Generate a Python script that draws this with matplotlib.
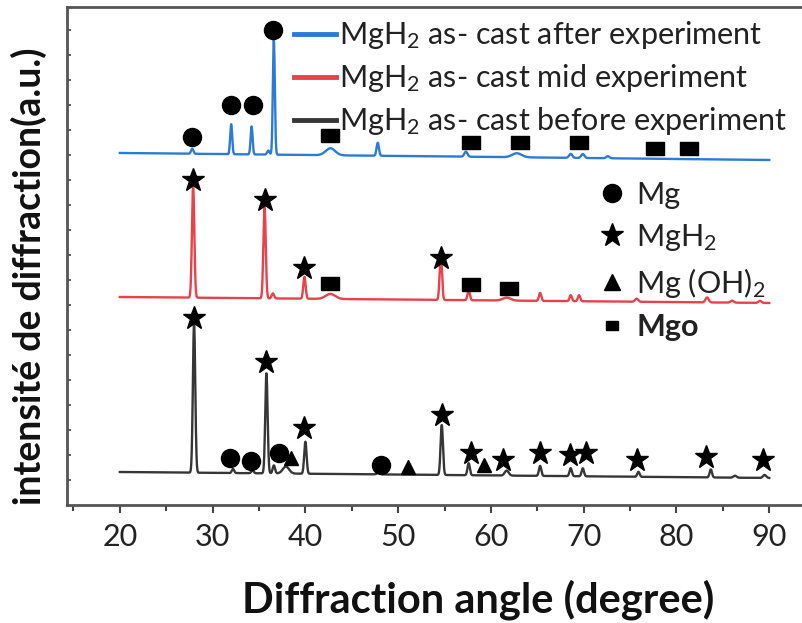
import numpy as np
import matplotlib.pyplot as plt
from matplotlib.lines import Line2D

plt.rcParams['font.family'] = ['Lato', 'DejaVu Sans']
plt.rcParams['mathtext.fontset'] = 'custom'
plt.rcParams['mathtext.rm'] = 'Lato'
plt.rcParams['mathtext.it'] = 'Lato:italic'
plt.rcParams['mathtext.bf'] = 'Lato:bold'

# peak lists: (2theta, height, fwhm), y in a.u.
before_peaks = [(28.0, 150, 0.3), (32.2, 4, 0.3), (34.3, 3, 0.3), (35.8, 100, 0.3),
                (36.6, 8, 0.3), (37.9, 7, 0.8), (40.0, 32, 0.3), (47.9, 2, 0.4),
                (54.7, 50, 0.3), (57.6, 12, 0.3), (61.7, 5, 0.5), (65.3, 10, 0.3),
                (68.6, 8, 0.3), (69.9, 8, 0.3), (75.9, 5, 0.3), (83.7, 8, 0.3),
                (86.3, 2, 0.4), (89.5, 3, 0.4)]
mid_peaks = [(27.9, 112, 0.3), (35.6, 92, 0.3), (36.5, 5, 0.3), (39.9, 22, 0.3),
             (42.7, 5, 1.2), (54.6, 45, 0.3), (57.6, 10, 0.3), (61.7, 3, 1.0),
             (65.3, 8, 0.3), (68.6, 6, 0.3), (69.5, 6, 0.3), (75.7, 3, 0.4),
             (83.3, 5, 0.4), (86.0, 2, 0.4), (89.0, 2, 0.4)]
after_peaks = [(27.8, 5, 0.3), (32.0, 30, 0.25), (34.2, 28, 0.25), (36.0, 4, 0.3),
               (36.6, 115, 0.25), (42.7, 7, 1.2), (47.8, 13, 0.3), (57.3, 5, 0.4),
               (62.8, 4, 1.2), (68.6, 4, 0.4), (69.9, 4, 0.4), (72.6, 2, 0.4)]

# baseline at 20 deg and at 90 deg
before_base = (33, 27)
mid_base = (208, 202)
after_base = (352, 345)

# phase markers (2theta, y)
mg_pts = [(27.8, 368), (32.0, 400), (34.4, 400), (36.5, 475),
          (31.9, 47), (34.1, 44), (37.2, 52), (48.1, 40)]
mgh2_pts = [(27.9, 325), (35.6, 305), (39.9, 237), (54.6, 247),
            (28.0, 187), (35.8, 143), (39.9, 77), (54.7, 90), (57.8, 52),
            (61.3, 45), (65.3, 52), (68.5, 50), (70.2, 52), (75.7, 45),
            (83.2, 48), (89.3, 45)]
mgoh2_pts = [(38.5, 47), (51.1, 38), (59.2, 40)]
mgo_pts = [(42.7, 370), (57.8, 363), (63.1, 363), (69.5, 363), (77.7, 357), (81.4, 357),
           (42.7, 222), (57.8, 221), (61.9, 217)]

labels = ['MgH$_2$ as- cast after experiment',
          'MgH$_2$ as- cast mid experiment',
          'MgH$_2$ as- cast before experiment']
colors = ['#2b7bd6', '#e8414a', '#363636']

two_theta = np.linspace(20, 90, 3500)


def pattern(peaks, base):
    y = base[0] + (base[1] - base[0]) * (two_theta - 20) / 70
    for pos, h, w in peaks:
        sig = w / 2.355
        y = y + h * np.exp(-0.5 * ((two_theta - pos) / sig) ** 2)
    return y


fig = plt.figure(figsize=(8.03, 6.23), dpi=100)
ax = fig.add_axes([0.0834, 0.1894, 0.93, 0.7994])

ax.plot(two_theta, pattern(after_peaks, after_base), color=colors[0], lw=1.7)
ax.plot(two_theta, pattern(mid_peaks, mid_base), color=colors[1], lw=1.7)
ax.plot(two_theta, pattern(before_peaks, before_base), color=colors[2], lw=1.7)

sq = [(-1, -0.72), (1, -0.72), (1, 0.72), (-1, 0.72), (-1, -0.72)]
ax.plot(*zip(*mg_pts), 'o', color='black', ms=13, ls='none')
ax.plot(*zip(*mgh2_pts), '*', color='black', ms=17, ls='none')
ax.plot(*zip(*mgoh2_pts), '^', color='black', ms=10, ls='none')
ax.plot(*zip(*mgo_pts), marker=sq, color='black', ms=13, ls='none')

handles = [Line2D([], [], color=c, lw=3.5) for c in colors]
leg1 = ax.legend(handles, labels, loc='upper left', bbox_to_anchor=(0.288, 1.0),
                 frameon=False, fontsize=22, handlelength=1.35, handletextpad=0.1,
                 labelspacing=0.36, borderaxespad=0)
for t in leg1.get_texts():
    t.set_color('#222222')
ax.add_artist(leg1)

phase_handles = [Line2D([], [], marker='o', color='black', ms=13, ls='none'),
                 Line2D([], [], marker='*', color='black', ms=17, ls='none'),
                 Line2D([], [], marker='^', color='black', ms=12, ls='none'),
                 Line2D([], [], marker=sq, color='black', ms=9, ls='none')]
phase_labels = ['Mg', 'MgH$_2$', 'Mg (OH)$_2$', 'Mgo']
leg2 = ax.legend(phase_handles, phase_labels, loc='upper left',
                 bbox_to_anchor=(0.693, 0.675), frameon=False, fontsize=22,
                 handlelength=1.0, handletextpad=0.3, labelspacing=0.42,
                 borderaxespad=0)
for t in leg2.get_texts():
    t.set_color('#222222')
leg2.get_texts()[3].set_fontweight('bold')

ax.set_xlim(14.3, 94.8)
ax.set_ylim(0, 498)
ax.set_xticks([20, 30, 40, 50, 60, 70, 80, 90])
ax.set_xticks(np.arange(15, 95, 10), minor=True)
ax.set_yticks([])
ax.set_yticks(np.arange(25, 476, 25), minor=True)
ax.tick_params(axis='x', which='major', direction='out', length=6, width=1.5,
               color='#444444', labelsize=22, labelcolor='#222222', pad=7)
ax.tick_params(axis='x', which='minor', direction='out', length=4, width=1.5,
               color='#444444')
ax.tick_params(axis='y', which='minor', direction='in', length=3, width=1.2,
               color='#444444')

for s in ['left', 'bottom', 'top']:
    ax.spines[s].set_linewidth(2)
    ax.spines[s].set_color('#555555')
ax.spines['right'].set_visible(False)

ax.set_xlabel('Diffraction angle (degree)', fontsize=30, fontweight='bold',
              color='#111111')
ax.xaxis.set_label_coords(0.55, -0.15)
ax.set_ylabel('intensité de diffraction(a.u.)', fontsize=27, fontweight='bold',
              color='#111111')
ax.yaxis.set_label_coords(-0.027, 0.46)

fig.savefig('out.png', dpi=100)
